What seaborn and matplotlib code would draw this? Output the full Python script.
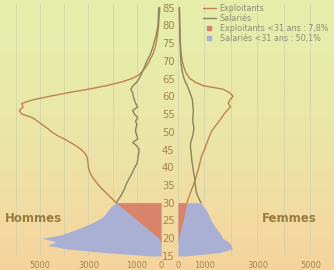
import numpy as np
import matplotlib
matplotlib.use("Agg")
import matplotlib.pyplot as plt
import seaborn as sns
from matplotlib.lines import Line2D

# ---------------- data ----------------
ages = list(range(15, 86))

men_exploitants = [
    0, 0, 0, 0, 20, 80, 260, 440, 620, 800, 970, 1150, 1320, 1500, 1680,      # 15-29
    1850, 2000, 2150, 2300, 2450, 2580, 2700, 2810, 2900, 2960,               # 30-39
    3000, 3010, 3030, 3060, 3150, 3300, 3500, 3750, 4000, 4300,               # 40-49
    4520, 4700, 4900, 5100, 5320, 5750, 5850, 5700, 5750, 5300,               # 50-59
    4600, 3850, 3000, 2250, 1650, 1200, 920, 780, 650, 550,                   # 60-69
    480, 400, 330, 280, 230, 200, 170, 150, 130, 110,                         # 70-79
    100, 90, 80, 70, 60, 50]                                                  # 80-85
men_salaries = [
    400, 2400, 3900, 4700, 4350, 4900, 4100, 3700, 3300, 2950, 2650, 2400, 2280, 2170, 2050,
    1850, 1750, 1650, 1580, 1500, 1450, 1380, 1300, 1220, 1150,
    1080, 1000, 960, 950, 920, 900, 1000, 1170, 960, 1000,
    1050, 1040, 1000, 1050, 960, 1100, 1170, 960, 1050, 1100,
    1150, 1170, 1250, 1150, 1000, 900, 830, 760, 700, 640,
    580, 500, 430, 380, 330, 290, 250, 210, 180, 150,
    125, 115, 110, 105, 100, 100]
women_exploitants = [
    0, 0, 0, 0, 0, 30, 60, 90, 120, 160, 190, 220, 250, 280, 310,
    340, 380, 430, 480, 530, 580, 630, 670, 710, 750,
    790, 820, 850, 880, 940, 1000, 1050, 1100, 1150, 1200,
    1260, 1350, 1450, 1550, 1650, 1740, 1850, 1980, 1900, 1960,
    2080, 1950, 1700, 950, 650, 450, 350, 280, 230, 190,
    160, 140, 120, 110, 100, 90, 85, 80, 75, 70,
    65, 60, 60, 55, 55, 50]
women_salaries = [
    300, 1600, 2050, 2000, 1900, 1680, 1620, 1520, 1420, 1330, 1250, 1190, 1130, 1060, 950,
    870, 800, 740, 690, 670, 650, 640, 630, 600, 580,
    560, 540, 520, 510, 500, 480, 470, 480, 520, 560,
    580, 600, 580, 560, 560, 570, 580, 560, 560, 540,
    500, 450, 400, 350, 280, 230, 190, 160, 140, 120,
    110, 100, 95, 90, 85, 80, 75, 70, 70, 65,
    65, 60, 60, 60, 55, 55]

legend_labels = ["Exploitants", "Salariés",
                 "Exploitants <31 ans : 7,8%", "Salariés <31 ans : 50,1%"]
age_ticks = list(range(15, 90, 5))
x_ticks = [0, 1000, 2000, 3000, 4000, 5000, 6000]
x_ticklabels = ["0", "1000", "", "3000", "", "5000", ""]

# ---------------- style ----------------
c_expl_line = "#c0824e"
c_sal_line = "#85865e"
c_expl_fill = "#d9846a"
c_sal_fill = "#a9b0d3"
c_text = "#a2864c"
c_title = "#9a7a3e"
c_legend = "#8e8e76"

sns.set_theme(style="white")
plt.rcParams["font.family"] = ["DejaVu Sans"]

fig = plt.figure(figsize=(3.34, 2.70), dpi=100)

# background gradient (photo of a slide)
bg = fig.add_axes([0, 0, 1, 1], zorder=-10)
H, W = 270, 334
yy = np.linspace(0, 1, H)[:, None]
xx = np.linspace(0, 1, W)[None, :]
top = np.array([230, 238, 172]) / 255
bottom = np.array([247, 211, 158]) / 255
t = np.clip(yy ** 1.6 + 0.0 * xx, 0, 1)
img = top[None, None, :] * (1 - t[..., None]) + bottom[None, None, :] * t[..., None]
bg.imshow(img, aspect="auto", extent=[0, 1, 0, 1], origin="upper")
bg.axis("off")

axL = fig.add_axes([0, 0.052, 161 / 334, 0.933])
axR = fig.add_axes([178 / 334, 0.052, 156 / 334, 0.933])

ages_arr = np.array(ages)
upper = ages_arr >= 30
young = ages_arr <= 30

for ax, expl, sal, xmax in [(axL, men_exploitants, men_salaries, 6650),
                            (axR, women_exploitants, women_salaries, 5890)]:
    ax.set_facecolor("none")
    expl = np.array(expl)
    sal = np.array(sal)
    ax.fill_betweenx(ages_arr[young], 0, sal[young], color=c_sal_fill, lw=0, zorder=2)
    ax.fill_betweenx(ages_arr[young], 0, expl[young], color=c_expl_fill, lw=0, zorder=3)
    sns.lineplot(x=expl[upper], y=ages_arr[upper], orient="y", estimator=None,
                 color=c_expl_line, lw=1.0, ax=ax, zorder=4)
    sns.lineplot(x=sal[upper], y=ages_arr[upper], orient="y", estimator=None,
                 color=c_sal_line, lw=1.0, ax=ax, zorder=4)
    ax.set_ylim(15, 86)
    ax.set_xticks(x_ticks)
    ax.set_xticklabels(x_ticklabels, fontsize=6, color=c_text)
    ax.tick_params(axis="x", length=0, pad=3.5)
    ax.grid(axis="x", color="#cfcfae", lw=0.6, alpha=0.8)
    ax.grid(axis="y", visible=False)
    for s in ax.spines.values():
        s.set_visible(False)
    ax.set_xlabel("")
    ax.set_ylabel("")

axL.set_xlim(6650, 0)
axL.set_yticks([])
axR.set_xlim(0, 5890)
axR.set_yticks(age_ticks)
axR.set_yticklabels([str(a) for a in age_ticks], fontsize=7.2, color=c_text, ha="center")
axR.tick_params(axis="y", length=0, pad=7)

fig.text(5 / 334, 1 - 218 / 270, "Hommes", fontsize=8.5, fontweight="bold",
         color=c_title, va="center", ha="left")
fig.text(289 / 334, 1 - 218 / 270, "Femmes", fontsize=8.5, fontweight="bold",
         color=c_title, va="center", ha="center")

handles = [Line2D([], [], color=c_expl_line, lw=1.0),
           Line2D([], [], color=c_sal_line, lw=1.0),
           Line2D([], [], marker="s", ls="none", color=c_expl_fill, ms=3.5),
           Line2D([], [], marker="s", ls="none", color=c_sal_fill, ms=3.5)]
leg = fig.legend(handles, legend_labels, loc="upper left",
                 bbox_to_anchor=(197 / 334, 1.005), frameon=False, fontsize=5.8,
                 handlelength=1.6, handletextpad=0.5, labelspacing=0.12, borderpad=0.2)
for txt in leg.get_texts():
    txt.set_color(c_legend)

fig.savefig("out.png", dpi=100)
